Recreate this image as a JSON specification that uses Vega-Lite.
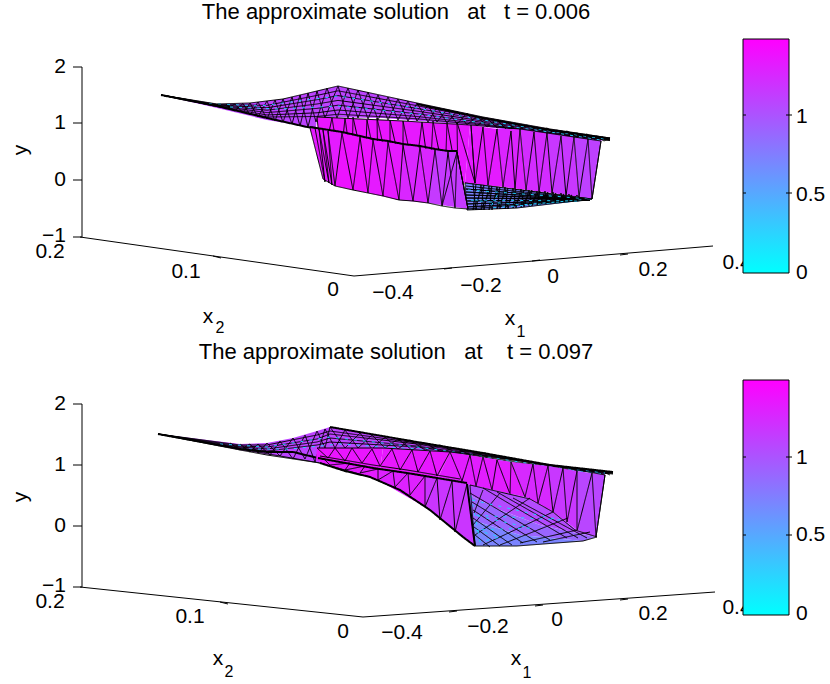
{"$schema":"https://vega.github.io/schema/vega-lite/v6.json","width":830,"height":684,"autosize":{"type":"fit","contains":"padding"},"padding":0,"view":{"stroke":null},"config":{"text":{"font":"Liberation Sans"}},
"encoding":{"x":{"field":"x","type":"quantitative","scale":{"domain":[0,830],"nice":false},"axis":null},"y":{"field":"y","type":"quantitative","scale":{"domain":[684,0],"nice":false},"axis":null}},
"datasets":{
"paths":[
{"p":"a1","v":1.1,"x":[161,217,250,283,317,338,417,483,550,610,600,470,383,317,316,267,217],"y":[95,104,103,99,91,86,103,117,129,138,141,125,118,117,128,120,108]},
{"p":"a4","e":"k","x":[161,217,267,317,338,417,483,550,610],"y":[95,104.5,105.4,95.4,90.8,105.7,118.4,129.8,138.5]},
{"p":"a5","e":"k","x":[161,217,267,317,338,417,483,550,610],"y":[95,105,107.8,99.7,95.6,108.4,119.7,130.5,138.9]},
{"p":"a6","e":"k","x":[161,217,267,317,338,417,483,550,610],"y":[95,105.4,110.2,104,100.4,111.1,121,131.3,139.4]},
{"p":"a7","e":"k","x":[161,217,267,317,338,417,483,550,610],"y":[95,105.8,112.6,108.4,105.2,113.8,122.4,132,139.8]},
{"p":"a8","e":"k","x":[161,217,267,317,338,417,483,550,610],"y":[95,106.3,115,112.8,110,116.5,123.8,132.8,140.3]},
{"p":"a9","e":"k","x":[161,217,267,317,338,417,483,550,610],"y":[95,106.6,117,116.5,114.2,118.8,124.9,133.4,140.6]},
{"p":"a10","e":"k","x":[217,226,235,243,250,258,267,275,283,292,300,308,317,325,338,348,358,368,378,388,398,408,417,428,437,447,457,467,477,487,497,507,517,527,537,547,557,567,577,587,597,604,610],"y":[104,109,104,113,103,117,101,121,99,124,95,127,91,118,86,118,90,119,95,120,99,121,103,122,107,123,111,125,116,127,120,130,124,132,127,134,130,136,133,139,136,141,138]},
{"p":"a13","e":"k","x":[226,235,243,250,258,267,275,283,292,300,308,316,327,337,348,358,368,378,388,398,408,417,428,437,447,457,467,477,487,497,507,517,527,537,547,557,567,577,587,595,603],"y":[104,111,103.5,115,102,119,100,122,97,126,93,122,88,118,88,118,92,120,97,120,101,121,105,122,109,124,113,126,118,128,122,131,125,133,128,135,131,137,134,140,137]},
{"p":"a2","e":"c","x":[200,260,338,417,483,550,605],"y":[103,106,96,108,120,131,139]},
{"p":"a3","e":"c","x":[230,280,338,417,483,550,600],"y":[107,109,106,114,123,132,140]},
{"p":"a11","e":"k","x":[161,217,250,283,317,338,417,483,550,610],"y":[95,104,103,99,91,86,103,117,129,138]},
{"p":"a14","e":"t","x":[417,483,550,610],"y":[104,118,130,138.5]},
{"p":"a12","e":"t","x":[161,217,267,307,316],"y":[95,106,118,127,128]},
{"p":"b1","v":1.37,"x":[317,403,400,322],"y":[117,121,176,165]},
{"p":"b2","v":1.35,"x":[403,470,465,400],"y":[121,125,183,176]},
{"p":"b3","v":1.33,"x":[470,497,503,465],"y":[125,129,187,183]},
{"p":"b4","v":1.28,"x":[497,520,526,503],"y":[129,129,190,187]},
{"p":"b5","v":1.23,"x":[520,547,552,526],"y":[129,133,193,190]},
{"p":"b6","v":1.17,"x":[547,574,579,552],"y":[133,137,197,193]},
{"p":"b7","v":1.11,"x":[574,601,592,579],"y":[137,141,199,197]},
{"p":"b8","e":"k","x":[317,322,332,340,345,352,353,365,367,378,377,390,390,403,403,415,422,430,433,445,447,458,457,475,471,475,483,488,497,503,511,515,520,526,534,539,547,552,561,566,574,579,588,592,601],"y":[117,165,118,167,118,168,117,171,120,173,118,175,120,177,121,178,122,180,121,181,123,182,122,183,125,183,127,185,129,187,131,189,129,190,132,192,133,193,136,196,137,197,139,199,141]},
{"p":"b9","e":"k","x":[317,403,470,520,601,592,465],"y":[117,121,125,129,141,199,183]},
{"p":"f1","v":0.72,"x":[465,592,590,517,467],"y":[183,199,200,208,210]},
{"p":"f3","e":"k","x":[466,590,466,590,466,590,466,590,466,590,466,590,466,590,466,590,467],"y":[186,199,189,199,192,199,195,199,198,199,201,200,204,200,207,200,209]},
{"p":"f5","e":"k","x":[473,476,481,484,489,492,497,500,505,508,513,516,521,524,529,532,537,540,545,548,553,556,561,564,569,572,577,580],"y":[184,210,185,210,186,210,187,209,187,209,188,208,189,207,190,206,191,205,191,204,192,203,193,202,194,201,195,200]},
{"p":"f6","e":"k","x":[476,473,484,481,492,489,500,497,508,505,516,513,524,521,532,529,540,537,548,545,556,553,564,561,572,569],"y":[184,210,185,210,186,210,187,209,188,209,189,208,190,207,190,206,191,205,192,204,193,203,194,202,195,201]},
{"p":"f2","e":"c","x":[468,592,520,470,580,490,500],"y":[190,199,205,200,201,208,190]},
{"p":"f4","e":"k","x":[467,517,592,465,467],"y":[210,208,199,183,210]},
{"p":"g0","v":1.33,"x":[310,342,335,323],"y":[128,133,186,179]},
{"p":"g1","v":1.38,"x":[342,373,368,335],"y":[133,140,193,186]},
{"p":"g2","v":1.34,"x":[373,403,399,368],"y":[140,145,200,193]},
{"p":"g3","v":1.27,"x":[403,435,428,399],"y":[145,150,203,200]},
{"p":"g4","v":1.15,"x":[435,457,468,428],"y":[150,152,209,203]},
{"p":"g5","e":"k","x":[315,325,319,329,323,332,328,335,342,353,360,368,373,383,388,399,403,413,420,428,435,442,448,455,457,468,457,442],"y":[128,182,129,183,130,185,131,186,133,190,137,193,140,196,142,200,145,201,147,203,150,206,152,208,152,209,152,206]},
{"p":"g6","e":"k","x":[310,323,335,353,368,383,399,413,428,442,455,468,457],"y":[128,179,186,190,193,196,200,201,203,206,208,209,152]},
{"p":"g7","e":"t","x":[310,342,360,373,388,403,420,435,448,457],"y":[127,132,136,139,141,144,146,149,151,151]},
{"p":"h1","v":1.1,"x":[158,240,267,293,317,330,417,483,550,613,603,567,517,450,383,317,320,240],"y":[434,444,443,438,431,427,442,453,465,472,475,468,460,452,448,448,463,450]},
{"p":"h4","e":"k","x":[158,240,267,317,330,417,483,550,613],"y":[434,445,445,435,431,443,454,466,472.6]},
{"p":"h5","e":"k","x":[158,240,267,317,330,417,483,550,613],"y":[434,446,447,439,434,444,455,466,473]},
{"p":"h6","e":"k","x":[158,240,267,317,330,417,483,550,613],"y":[434,447,449,442,438,446,456,467,473.5]},
{"p":"h7","e":"k","x":[158,240,267,317,330,417,483,550,613],"y":[434,448,451,445,442,447,457,468,474]},
{"p":"h8","e":"k","x":[158,240,267,320,240,158],"y":[434,450,455,463,449,434]},
{"p":"h10","e":"k","x":[230,240,250,258,267,280,293,305,317,325,330,345,360,372,385,398,410,425,440,455,470,485,500,515,530,545,560,575,590,603,613],"y":[443,450,444,453,443,456,438,459,431,448,427,448,433,449,437,449,440,450,445,452,451,456,456,460,461.6,464.5,466,468,469.5,474,472]},
{"p":"h11","e":"k","x":[240,250,258,270,280,293,305,315,325,335,345,358,372,385,398,412,425,440,455,470,485,500,515,530,545,560,575,590,600,610],"y":[444,452,444,455,441,459,435,462,429,448,430,448,435,448,439,450,443,451.5,448,454.5,453,458,459,462,464,467,468,472,470.5,475]},
{"p":"h2","e":"c","x":[220,267,330,417,483,550,605],"y":[444,447,437,447,456,467,473]},
{"p":"h3","e":"c","x":[240,290,340,417,483,550,605],"y":[449,449,444,449,458,468,474]},
{"p":"h9","e":"t","x":[330,417,483,550,613],"y":[427,442,453,465,472]},
{"p":"h12","e":"t","x":[158,240,267,293,318],"y":[434,449,452,452,458]},
{"p":"j1","v":1.37,"x":[317,383,380,316],"y":[448,448,470,460]},
{"p":"j2","v":1.35,"x":[383,450,437,380],"y":[448,452,480,470]},
{"p":"j3","v":1.32,"x":[450,511,525,470,437],"y":[452,462,497,485,480]},
{"p":"j4","v":1.25,"x":[511,548,553,525],"y":[462,466,512,497]},
{"p":"j5","v":1.17,"x":[548,577,577,553],"y":[466,471,530,512]},
{"p":"j6","v":1.08,"x":[577,605,596,577],"y":[471,475,537,530]},
{"p":"j7","e":"k","x":[605,596,592,577,577,567,563,553,548,538,533,525,511,510,497,492,483,476,470,462,450,437,430,418,412,400,392,380,372,362,352,345,335,328,317],"y":[475,537,473,531,471,522,468,512,466,503,464,497,462,494,460,490,457,486,455,481,452,476,451,472,450,470,449,466,449,463,448,461,448,458,448]},
{"p":"j8","e":"k","x":[317,383,450,517,567,605,596],"y":[448,448,452,460,468,475,537]},
{"p":"k1","v":1.05,"x":[467,525,553,577,596,540,500,469],"y":[484,497,512,530,537,525,510,495]},
{"p":"k2","v":0.9,"x":[469,500,540,596,583,520,472],"y":[495,510,525,537,541,535,520]},
{"p":"k3","v":0.72,"x":[472,520,583,517,475],"y":[520,535,541,546,546]},
{"p":"m1","e":"k","x":[470,550],"y":[493,540]},
{"p":"m2","e":"k","x":[472,537],"y":[502,542]},
{"p":"m3","e":"k","x":[473,523],"y":[510,543]},
{"p":"m4","e":"k","x":[473,512],"y":[518,545]},
{"p":"m5","e":"k","x":[474,500],"y":[527,546]},
{"p":"m6","e":"k","x":[475,490],"y":[535,547]},
{"p":"m7","e":"k","x":[483,567],"y":[488,538]},
{"p":"m8","e":"k","x":[497,578],"y":[492,538]},
{"p":"m9","e":"k","x":[513,587],"y":[498,538]},
{"p":"n1","e":"k","x":[474,483],"y":[513,490]},
{"p":"n2","e":"k","x":[473,500],"y":[525,493]},
{"p":"n3","e":"k","x":[475,530],"y":[535,498]},
{"p":"n4","e":"k","x":[483,553],"y":[545,512]},
{"p":"n5","e":"k","x":[500,568],"y":[545,518]},
{"p":"n6","e":"k","x":[520,577],"y":[543,530]},
{"p":"n7","e":"k","x":[543,590],"y":[542,532]},
{"p":"k4","e":"c","x":[472,560,474,530,476,500,480,470],"y":[500,520,515,528,530,537,542,490]},
{"p":"k7","e":"k","x":[470,500,530,553,575,597,583,517,475,470],"y":[485,492,499,512,530,537,541,546,546,485]},
{"p":"l1","v":1.33,"x":[318,378,378,345,320],"y":[458,469,480,470,463]},
{"p":"l2","v":1.3,"x":[378,425,425,378],"y":[469,476,507,480]},
{"p":"l3","v":1.18,"x":[425,467,475,425],"y":[476,484,546,507]},
{"p":"l4","e":"k","x":[475,467,455,452,440,437,425,425,410,408,395,393,378,378,360,365,345,350,330,325],"y":[546,484,532,481,520,478,507,476,495,473,487,471,480,469,473,466,470,463,465,460]},
{"p":"l5","e":"k","x":[320,370,400,430,463,475],"y":[463,477,490,510,537,546]},
{"p":"l6","e":"t","x":[320,345,370,400,430,463,475],"y":[463,471,477,490,510,537,546]},
{"p":"l7","e":"t","x":[318,373,407,467],"y":[458,468,473,483]},
{"p":"l9","e":"k","x":[320,373,407,460],"y":[456,465,470,479]},
{"p":"l8","e":"t","x":[467,475],"y":[484,546]}
],
"labels":[
{"t":"0.2","x":50,"y":252},{"t":"0.1","x":186,"y":272},{"t":"0","x":333,"y":290},{"t":"−0.4","x":393,"y":293},{"t":"−0.2","x":481,"y":286},{"t":"0","x":553,"y":277},{"t":"0.2","x":653,"y":270},{"t":"0.4","x":737,"y":263},
{"t":"0.2","x":50,"y":602},{"t":"0.1","x":190,"y":617},{"t":"0","x":343,"y":632},{"t":"−0.4","x":402,"y":633},{"t":"−0.2","x":488,"y":627},{"t":"0","x":557,"y":620},{"t":"0.2","x":653,"y":614},{"t":"0.4","x":737,"y":608}
]
},
"layer":[
{"data":{"name":"paths"},"transform":[{"flatten":["x","y"]}],
"mark":{"type":"line","order":null,"filled":true,"invalid":"show"},
"encoding":{
"detail":{"field":"p"},
"fill":{"condition":{"test":"datum.e","value":"transparent"},"field":"v","type":"quantitative","scale":{"domain":[0,1.49],"range":["#00ffff","#ff00ff"],"interpolate":"rgb"},"legend":null},
"stroke":{"condition":[{"test":"datum.e==='k'||datum.e==='t'","value":"#000000"},{"test":"datum.e==='c'","value":"#22d0ff"}],"value":null},
"strokeWidth":{"condition":{"test":"datum.e==='t'","value":2},"value":1},
"strokeDash":{"condition":{"test":"datum.e==='c'","value":[3,6]},"value":[1,0]}
}},
{"data":{"values":[{"x":82,"y":67,"x2":82,"y2":237},{"x":80,"y":237,"x2":354,"y2":276},{"x":354,"y":276,"x2":713,"y2":246},{"x":82,"y":404,"x2":82,"y2":587},{"x":80,"y":587,"x2":363,"y2":617},{"x":363,"y":617,"x2":715,"y2":592},
{"x":73,"y":67,"x2":82,"y2":67},{"x":73,"y":123,"x2":82,"y2":123},{"x":73,"y":180,"x2":82,"y2":180},{"x":73,"y":237,"x2":82,"y2":237},{"x":73,"y":404,"x2":82,"y2":404},{"x":73,"y":465,"x2":82,"y2":465},{"x":73,"y":526,"x2":82,"y2":526},{"x":73,"y":587,"x2":82,"y2":587},
{"x":213,"y":256,"x2":221,"y2":258},{"x":452,"y":268,"x2":444,"y2":269},{"x":540,"y":260,"x2":532,"y2":261},{"x":628,"y":254,"x2":620,"y2":255},{"x":220,"y":602,"x2":228,"y2":604},{"x":457,"y":611,"x2":449,"y2":612},{"x":543,"y":605,"x2":535,"y2":606},{"x":628,"y":599,"x2":620,"y2":600}]},
"mark":{"type":"rule","stroke":"#000","strokeWidth":1},
"encoding":{"x2":{"field":"x2"},"y2":{"field":"y2"}}},
{"data":{"name":"labels"},"mark":{"type":"text","align":"center","baseline":"middle","fontSize":21},
"encoding":{"text":{"field":"t"}}},
{"data":{"values":[{"t":"2","x":66,"y":67},{"t":"1","x":66,"y":123},{"t":"0","x":66,"y":180},{"t":"−1","x":66,"y":236},{"t":"2","x":66,"y":404},{"t":"1","x":66,"y":465},{"t":"0","x":66,"y":526},{"t":"−1","x":66,"y":586}]},
"mark":{"type":"text","align":"right","baseline":"middle","fontSize":21},
"encoding":{"text":{"field":"t"}}},
{"data":{"values":[{"x":743,"x2":789,"y":39,"y2":273},{"x":743,"x2":789,"y":380,"y2":615}]},
"mark":{"type":"rect","stroke":"#000","strokeWidth":1,"color":{"gradient":"linear","x1":0,"y1":1,"x2":0,"y2":0,"stops":[{"offset":0,"color":"#00ffff"},{"offset":1,"color":"#ff00ff"}]}},
"encoding":{"x2":{"field":"x2"},"y2":{"field":"y2"}}},
{"data":{"values":[{"x":743,"x2":746,"y":115},{"x":743,"x2":746,"y":193},{"x":743,"x2":746,"y":457},{"x":743,"x2":746,"y":535},{"x":786,"x2":792,"y":115},{"x":786,"x2":792,"y":193},{"x":786,"x2":792,"y":457},{"x":786,"x2":792,"y":535}]},
"mark":{"type":"rule","stroke":"#000"},
"encoding":{"x2":{"field":"x2"}}},
{"data":{"values":[{"t":"1","x":796,"y":117},{"t":"0.5","x":796,"y":195},{"t":"0","x":796,"y":273},{"t":"1","x":796,"y":458},{"t":"0.5","x":796,"y":535},{"t":"0","x":796,"y":614}]},
"mark":{"type":"text","align":"left","baseline":"middle","fontSize":21},
"encoding":{"text":{"field":"t"}}},
{"data":{"values":[{"t":"x","x":208,"y":317},{"t":"x","x":510,"y":319},{"t":"x","x":218,"y":659},{"t":"x","x":516,"y":659}]},
"mark":{"type":"text","align":"center","baseline":"middle","fontSize":21},
"encoding":{"text":{"field":"t"}}},
{"data":{"values":[{"t":"y","x":21,"y":150},{"t":"y","x":21,"y":497}]},
"mark":{"type":"text","align":"center","baseline":"middle","fontSize":21,"angle":270},
"encoding":{"text":{"field":"t"}}},
{"data":{"values":[{"t":"2","x":220,"y":328},{"t":"1","x":521,"y":332},{"t":"2","x":229,"y":672},{"t":"1","x":527,"y":673}]},
"mark":{"type":"text","align":"center","baseline":"middle","fontSize":16},
"encoding":{"text":{"field":"t"}}},
{"data":{"values":[{"t":"The approximate solution\u00a0\u00a0\u00a0at\u00a0\u00a0\u00a0t = 0.006","x":396,"y":12},{"t":"The approximate solution\u00a0\u00a0\u00a0at\u00a0\u00a0\u00a0\u00a0t = 0.097","x":396,"y":352}]},
"mark":{"type":"text","align":"center","baseline":"middle","fontSize":22},
"encoding":{"text":{"field":"t"}}}
]}
